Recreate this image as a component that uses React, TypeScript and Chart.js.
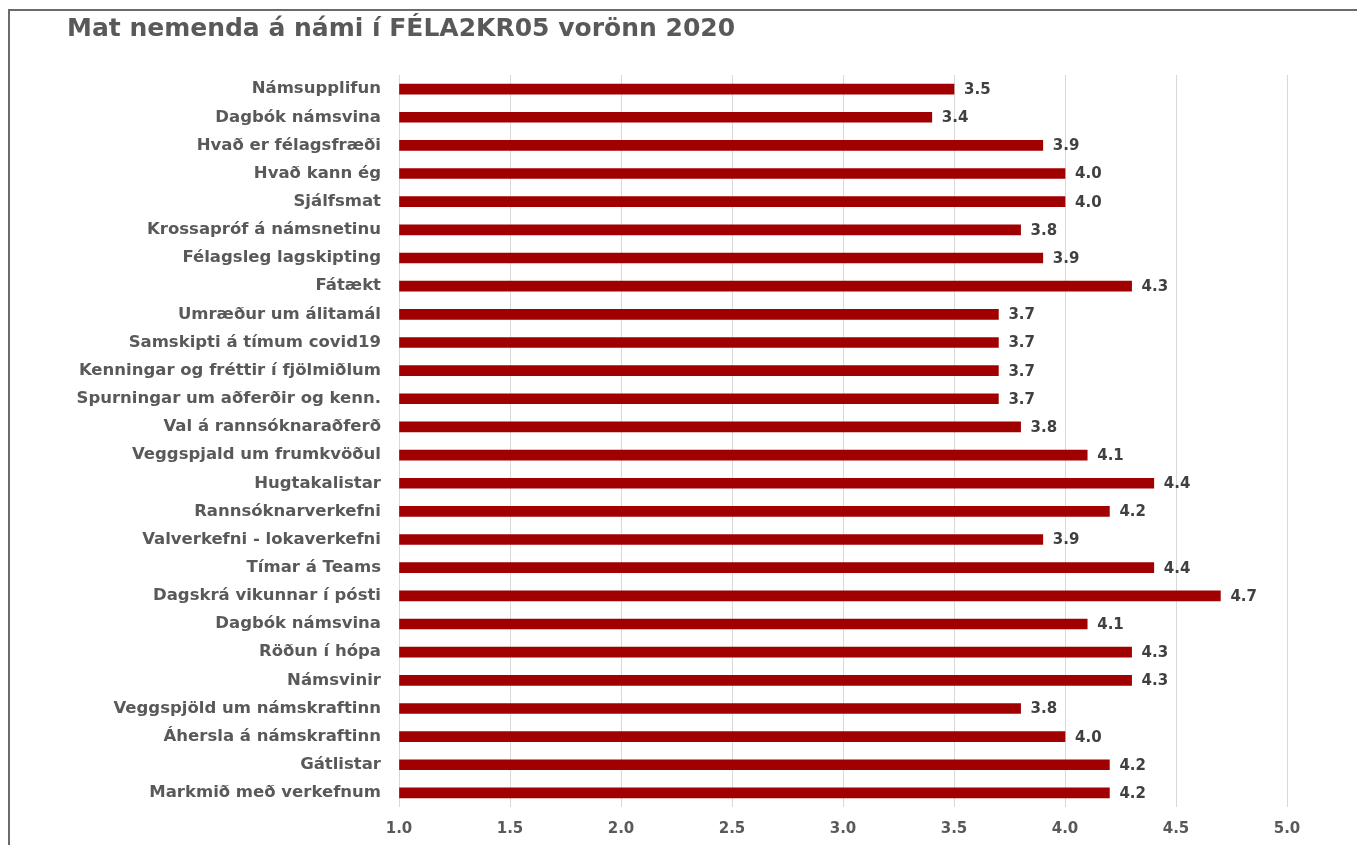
import React, { useEffect, useRef } from "react";
import { Chart, registerables } from "chart.js";

Chart.register(...registerables);

const TITLE = "Mat nemenda á námi í FÉLA2KR05 vorönn 2020";

const categories: string[] = [
  "Námsupplifun",
  "Dagbók námsvina",
  "Hvað er félagsfræði",
  "Hvað kann ég",
  "Sjálfsmat",
  "Krossapróf á námsnetinu",
  "Félagsleg lagskipting",
  "Fátækt",
  "Umræður um álitamál",
  "Samskipti á tímum covid19",
  "Kenningar og fréttir í fjölmiðlum",
  "Spurningar um aðferðir og kenn.",
  "Val á rannsóknaraðferð",
  "Veggspjald um frumkvöðul",
  "Hugtakalistar",
  "Rannsóknarverkefni",
  "Valverkefni - lokaverkefni",
  "Tímar á Teams",
  "Dagskrá vikunnar í pósti",
  "Dagbók námsvina",
  "Röðun í hópa",
  "Námsvinir",
  "Veggspjöld um námskraftinn",
  "Áhersla á námskraftinn",
  "Gátlistar",
  "Markmið með verkefnum",
];

const scores: number[] = [
  3.5, 3.4, 3.9, 4.0, 4.0, 3.8, 3.9, 4.3, 3.7, 3.7, 3.7, 3.7, 3.8, 4.1, 4.4,
  4.2, 3.9, 4.4, 4.7, 4.1, 4.3, 4.3, 3.8, 4.0, 4.2, 4.2,
];

const xMin = 1.0;
const xMax = 5.0;
const xStep = 0.5;

const FONT = "'DejaVu Sans', 'Liberation Sans', Arial, sans-serif";
const TEXT = "#595959";

const valueLabels = {
  id: "valueLabels",
  afterDatasetsDraw(chart: any) {
    const ctx = chart.ctx;
    const meta = chart.getDatasetMeta(0);
    const data = chart.data.datasets[0].data as number[];
    ctx.save();
    ctx.font = `bold 15px ${FONT}`;
    ctx.fillStyle = "#404040";
    ctx.textAlign = "left";
    ctx.textBaseline = "middle";
    meta.data.forEach((bar: any, i: number) => {
      ctx.fillText(Number(data[i]).toFixed(1), bar.x + 10, bar.y + 1);
    });
    ctx.restore();
  },
};

export default function App() {
  const ref = useRef<HTMLCanvasElement | null>(null);

  useEffect(() => {
    if (!ref.current) return;
    const chart = new Chart(ref.current, {
      type: "bar",
      data: {
        labels: categories,
        datasets: [
          {
            data: scores,
            backgroundColor: "#A00000",
            borderWidth: 0,
            barThickness: 10,
            base: xMin,
          } as any,
        ],
      },
      plugins: [valueLabels],
      options: {
        indexAxis: "y",
        animation: false,
        responsive: false,
        maintainAspectRatio: false,
        layout: { padding: { left: 0, right: 70, top: 75, bottom: 0 } },
        plugins: {
          legend: { display: false },
          tooltip: { enabled: false },
          title: { display: false },
        },
        scales: {
          x: {
            min: xMin,
            max: xMax,
            ticks: {
              stepSize: xStep,
              padding: 13,
              color: TEXT,
              font: { family: FONT, size: 15, weight: "bold" },
              callback: (v: any) => Number(v).toFixed(1),
            },
            grid: { color: "#D9D9D9", lineWidth: 1, drawTicks: false },
            border: { display: false },
            afterFit: (scale: any) => {
              scale.height = 38;
            },
          },
          y: {
            ticks: {
              padding: 18,
              color: TEXT,
              font: { family: FONT, size: 16.5, weight: "bold" },
              autoSkip: false,
            },
            grid: { display: false, drawTicks: false },
            border: { display: false },
            afterFit: (scale: any) => {
              scale.width = 399;
            },
          },
        },
      } as any,
    });
    return () => chart.destroy();
  }, []);

  return (
    <div
      style={{
        position: "fixed",
        left: 0,
        top: 0,
        width: 1357,
        height: 845,
        background: "#fff",
        overflow: "hidden",
      }}
    >
      <div
        style={{
          position: "absolute",
          left: 8,
          top: 9,
          width: 1400,
          height: 900,
          borderLeft: "2px solid #6b6b6b",
          borderTop: "2px solid #6b6b6b",
          boxSizing: "border-box",
        }}
      />
      <canvas
        ref={ref}
        width={1357}
        height={845}
        style={{ position: "absolute", left: 0, top: 0, width: 1357, height: 845 }}
      />
      <div
        style={{
          position: "absolute",
          left: 67,
          top: 13,
          fontFamily: FONT,
          fontWeight: "bold",
          fontSize: 25,
          lineHeight: "30px",
          color: TEXT,
          whiteSpace: "nowrap",
        }}
      >
        {TITLE}
      </div>
    </div>
  );
}
